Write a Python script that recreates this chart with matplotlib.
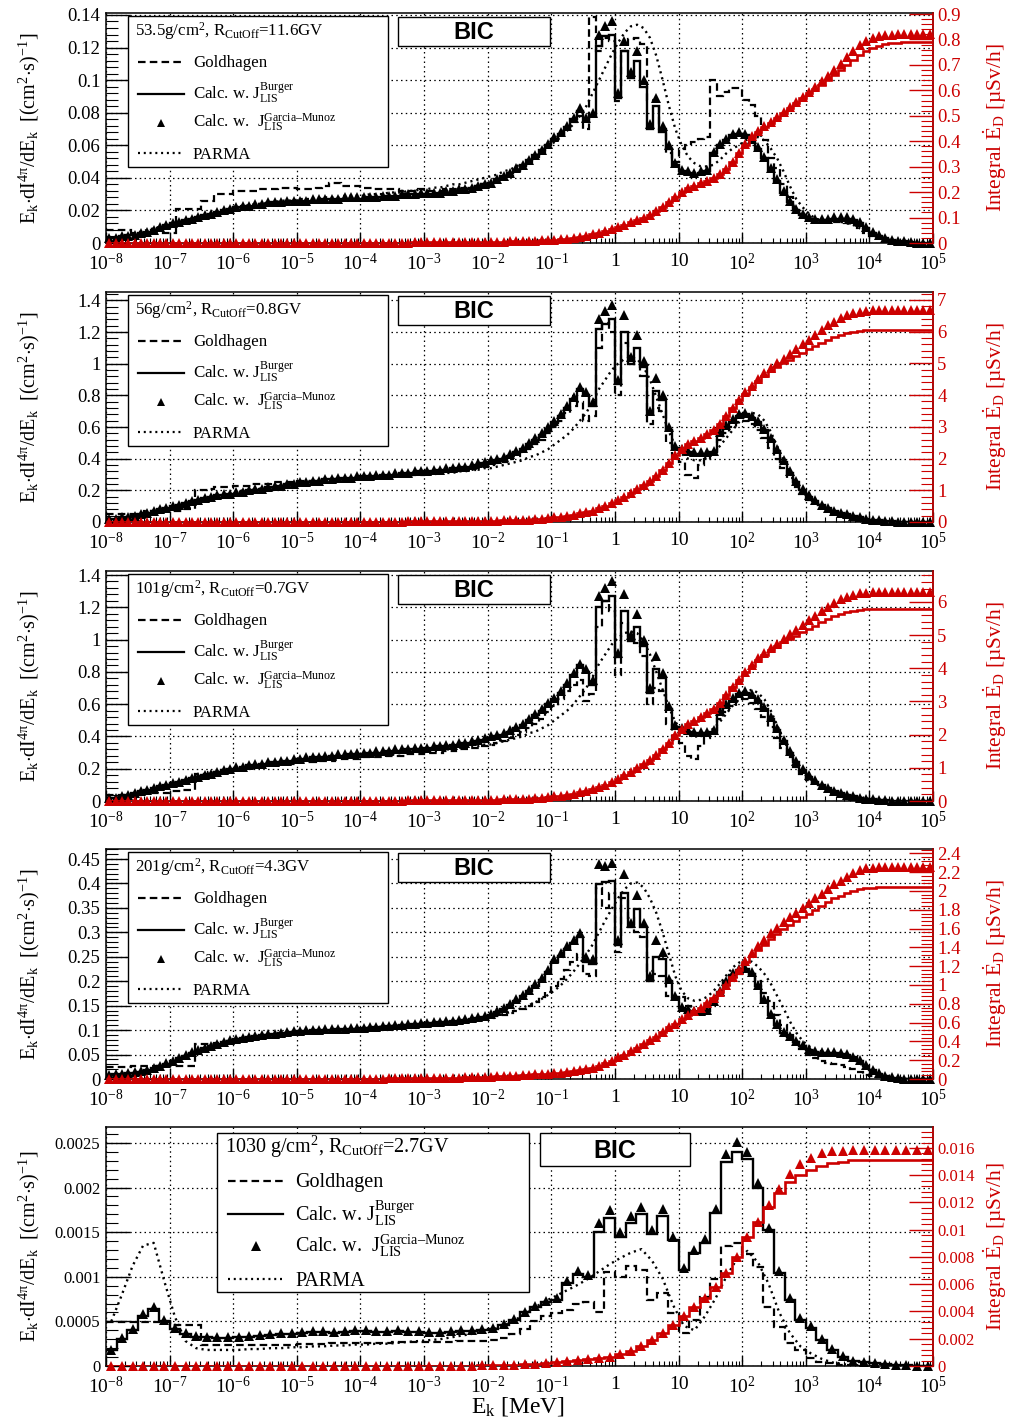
import numpy as np
import matplotlib
matplotlib.use("Agg")
import matplotlib.pyplot as plt
from matplotlib.lines import Line2D
from matplotlib.patches import Rectangle
from matplotlib.ticker import MultipleLocator, FixedLocator, FuncFormatter, LogLocator, NullFormatter

plt.rcParams["font.family"] = ["Liberation Serif", "DejaVu Serif"]
plt.rcParams["mathtext.fontset"] = "custom"
plt.rcParams["mathtext.rm"] = "Liberation Serif"
plt.rcParams["mathtext.it"] = "Liberation Serif:italic"
plt.rcParams["mathtext.bf"] = "Liberation Serif:bold"
plt.rcParams["mathtext.default"] = "rm"

# ---------------- energy binning (kinetic energy in MeV) ----------------
FINE_EDGES = np.logspace(-8, 5, 131)     # 10 bins per decade
COARSE_EDGES = np.logspace(-8, 5, 79)    # 6 bins per decade

X_TICKS = [1e-8, 1e-7, 1e-6, 1e-5, 1e-4, 1e-3, 1e-2, 1e-1, 1, 10, 1e2, 1e3, 1e4, 1e5]
X_TICK_LABELS = [r"$10^{-8}$", r"$10^{-7}$", r"$10^{-6}$", r"$10^{-5}$", r"$10^{-4}$",
                 r"$10^{-3}$", r"$10^{-2}$", r"$10^{-1}$", "1", "10", r"$10^{2}$",
                 r"$10^{3}$", r"$10^{4}$", r"$10^{5}$"]

# ---------------- 53.5 g/cm2, R_cutoff = 11.6 GV (flux x 1e-3, dose x 1e-2) ----------------
P1_GOLDHAGEN = [
    8, 8, 8, 8, 6, 6, 6, 6, 6, 6,
    6, 21, 21, 21, 21, 26, 26, 30, 30, 30,
    32, 32, 32, 32, 33, 33, 33, 34, 34, 34,
    33, 33, 33, 34, 35, 37, 37, 35, 35, 35,
    34, 34, 33, 33, 33, 33, 32, 32, 32, 33,
    32, 32, 32, 33, 33, 33, 34, 34, 35, 36,
    37, 38, 40, 42, 44, 47, 50, 53, 56, 60,
    63, 66, 70, 74, 78, 70, 139, 118, 126, 124,
    87, 118, 125, 126, 122, 88, 87, 70, 55, 50,
    58, 60, 62, 64, 65, 100, 90, 93, 95, 95,
    88, 85, 78, 63, 52, 46, 36, 28, 22, 18,
    15, 14, 14, 14, 13, 13, 12, 11, 9, 6,
    4, 3, 2, 1, 0.5, 0.3, 0, 0, 0, 0]
P1_BURGER = [
    3, 3, 4, 5, 5, 6, 7, 8, 9, 11,
    12, 13, 14, 15, 16, 17, 18, 19, 20, 21,
    22, 22, 23, 23, 24, 24, 25, 25, 25, 26,
    26, 26, 26, 26, 27, 27, 27, 27, 27, 27,
    27, 28, 28, 28, 29, 29, 29, 30, 30, 30,
    30, 30, 31, 31, 32, 32, 33, 34, 35, 36,
    37, 39, 41, 43, 45, 48, 51, 54, 57, 60,
    64, 67, 71, 76, 81, 75, 78, 121, 127, 128,
    89, 118, 101, 112, 96, 70, 84, 68, 58, 48,
    44, 43, 42, 43, 44, 55, 60, 63, 66, 67,
    66, 63, 58, 52, 45, 38, 31, 25, 20, 17,
    15, 14, 14, 14, 15, 15, 15, 14, 12, 9,
    6, 4, 3, 2, 1, 1, 0.5, 0.2, 0, 0]
P1_GARCIA = [
    3, 3, 4, 4, 5, 6, 7, 8, 10, 11,
    12, 13, 14, 15, 16, 17, 18, 19, 20, 21,
    22, 23, 23, 24, 24, 25, 25, 25, 26, 26,
    26, 26, 27, 27, 27, 27, 27, 28, 28, 28,
    28, 28, 28, 29, 29, 29, 30, 30, 30, 31,
    31, 31, 31, 32, 32, 33, 33, 34, 35, 36,
    37, 39, 41, 43, 46, 48, 51, 54, 57, 61,
    65, 68, 72, 77, 83, 77, 80, 128, 133, 136,
    92, 124, 105, 118, 100, 73, 89, 72, 60, 49,
    45, 44, 43, 44, 45, 56, 61, 64, 67, 68,
    67, 64, 59, 53, 46, 39, 32, 26, 21, 18,
    16, 15, 15, 15, 16, 16, 16, 15, 13, 10,
    7, 5, 3, 2, 1.5, 1, 0.6, 0.3, 0.1, 0]
P1_PARMA = [
    3, 3, 4, 5, 6, 7, 8, 9, 10, 11,
    12, 13, 14, 15, 16, 17, 18, 19, 20, 21,
    22, 23, 23, 24, 24, 25, 25, 26, 26, 26,
    27, 27, 27, 27, 28, 28, 28, 29, 29, 29,
    29, 30, 30, 30, 31, 31, 31, 32, 32, 33,
    33, 34, 34, 35, 36, 36, 37, 38, 39, 40,
    41, 42, 44, 45, 47, 49, 51, 53, 56, 59,
    62, 65, 69, 73, 78, 84, 92, 100, 108, 116,
    123, 129, 133, 134, 132, 126, 115, 100, 84, 70,
    60, 53, 49, 47, 47, 48, 51, 55, 58, 60,
    63, 65, 65, 63, 58, 52, 44, 35, 27, 22,
    18, 15, 14, 13, 13, 13, 12, 11, 9, 7,
    5, 3, 2, 1, 0.5, 0.2, 0, 0, 0, 0]
P1_DOSE_GARCIA = [
    0, 0, 0, 0, 0, 0, 0, 0, 0, 0,
    0, 0, 0, 0, 0, 0, 0, 0, 0, 0,
    0, 0, 0, 0, 0, 0, 0, 0, 0, 0,
    0, 0, 0, 0, 0, 0.1, 0.1, 0.1, 0.1, 0.1,
    0.1, 0.1, 0.1, 0.1, 0.1, 0.1, 0.1, 0.1, 0.2, 0.2,
    0.2, 0.2, 0.2, 0.2, 0.3, 0.3, 0.3, 0.3, 0.4, 0.4,
    0.4, 0.5, 0.5, 0.6, 0.6, 0.7, 0.8, 0.9, 1.0, 1.1,
    1.3, 1.5, 1.7, 2.0, 2.4, 2.9, 3.4, 4.0, 4.7, 5.5,
    6.3, 7.2, 8.1, 9.0, 10, 11, 12.5, 14, 16, 18,
    20, 21.5, 22.5, 23.5, 24.5, 25.5, 27, 29, 32, 35.5,
    39, 42, 44, 46, 47.5, 49.5, 51.5, 53.5, 55.5, 57.5,
    59.5, 61.5, 63.5, 65.5, 68, 70.5, 73, 75.5, 78, 79.5,
    80.5, 81.2, 81.6, 81.8, 82, 82, 82, 82, 82, 82]
P1_DOSE_BURGER = [
    0, 0, 0, 0, 0, 0, 0, 0, 0, 0,
    0, 0, 0, 0, 0, 0, 0, 0, 0, 0,
    0, 0, 0, 0, 0, 0, 0, 0, 0, 0,
    0, 0, 0, 0, 0, 0.1, 0.1, 0.1, 0.1, 0.1,
    0.1, 0.1, 0.1, 0.1, 0.1, 0.1, 0.1, 0.1, 0.2, 0.2,
    0.2, 0.2, 0.2, 0.2, 0.3, 0.3, 0.3, 0.3, 0.4, 0.4,
    0.4, 0.5, 0.5, 0.6, 0.6, 0.7, 0.8, 0.9, 1.0, 1.1,
    1.3, 1.5, 1.7, 2.0, 2.4, 2.9, 3.4, 4.0, 4.7, 5.5,
    6.3, 7.2, 8.1, 9.0, 10, 11, 12.5, 14, 16, 18,
    20, 21.5, 22.5, 23.5, 24.5, 25.5, 27, 29, 32, 35.5,
    38.5, 41.5, 43.5, 45.5, 47, 49, 51, 53, 55, 57,
    59, 60.5, 62, 64, 66, 68, 70, 72, 74, 75.5,
    76.8, 77.6, 78.2, 78.6, 78.8, 79, 79, 79, 79, 79]

# ---------------- 56 g/cm2, R_cutoff = 0.8 GV (flux x 1e-2, dose x 1e-1) ----------------
P2_GOLDHAGEN = [
    5, 5, 5, 5, 5, 6, 7, 7, 7, 7,
    7, 7, 8, 8, 20, 20, 21, 22, 22, 22,
    23, 23, 23, 24, 24, 24, 25, 25, 25, 25,
    26, 26, 26, 26, 26, 27, 27, 27, 27, 27,
    28, 28, 28, 28, 29, 29, 29, 30, 30, 30,
    31, 31, 31, 32, 32, 32, 33, 33, 34, 35,
    36, 37, 38, 40, 42, 44, 46, 49, 52, 56,
    60, 64, 69, 73, 76, 64, 67, 110, 126, 120,
    80, 113, 105, 100, 92, 62, 72, 70, 50, 40,
    38, 30, 28, 36, 40, 45, 52, 56, 60, 63,
    64, 62, 58, 53, 47, 40, 34, 28, 22, 18,
    14, 12, 10, 8, 6, 5, 4, 3, 2, 1.5,
    1, 0.7, 0.4, 0.2, 0.1, 0, 0, 0, 0, 0]
P2_BURGER = [
    2, 2, 3, 3, 4, 5, 6, 7, 8, 9,
    10, 11, 12, 13, 14, 15, 16, 17, 17, 18,
    18, 19, 20, 20, 21, 22, 22, 23, 24, 24,
    25, 25, 26, 26, 27, 27, 27, 28, 28, 28,
    29, 29, 29, 30, 30, 30, 31, 31, 31, 32,
    32, 32, 33, 33, 34, 34, 35, 35, 36, 37,
    38, 39, 40, 42, 44, 46, 49, 52, 55, 59,
    63, 67, 72, 78, 84, 80, 73, 122, 125, 128,
    87, 120, 100, 110, 98, 68, 83, 77, 58, 47,
    45, 44, 43, 43, 43, 44, 56, 60, 64, 67,
    68, 66, 63, 58, 52, 45, 38, 31, 25, 20,
    16, 13, 11, 9, 7, 6, 5, 4, 3, 2,
    1.5, 1, 0.7, 0.5, 0.3, 0.2, 0.1, 0, 0, 0]
P2_GARCIA = [
    2, 2, 3, 3, 4, 5, 6, 7, 8, 9,
    10, 11, 12, 13, 14, 15, 16, 17, 18, 18,
    19, 19, 20, 21, 21, 22, 23, 23, 24, 24,
    25, 25, 26, 26, 27, 27, 28, 28, 28, 29,
    29, 29, 30, 30, 30, 31, 31, 31, 32, 32,
    32, 33, 33, 34, 34, 35, 35, 36, 37, 38,
    39, 40, 41, 43, 45, 47, 50, 53, 56, 60,
    64, 68, 73, 79, 85, 82, 76, 128, 133, 137,
    90, 131, 104, 118, 102, 70, 91, 80, 60, 48,
    46, 45, 44, 44, 44, 45, 57, 61, 65, 68,
    69, 67, 64, 59, 53, 46, 39, 32, 26, 21,
    17, 14, 11, 9, 7, 6, 5, 4, 3, 2,
    1.5, 1, 0.7, 0.5, 0.3, 0.2, 0.1, 0, 0, 0]
P2_PARMA = [
    2, 2, 3, 4, 4, 5, 6, 7, 8, 9,
    10, 11, 12, 13, 14, 15, 16, 17, 18, 18,
    19, 20, 20, 21, 21, 22, 22, 23, 23, 24,
    24, 25, 25, 25, 26, 26, 26, 27, 27, 27,
    27, 28, 28, 28, 28, 29, 29, 29, 30, 30,
    30, 30, 31, 31, 31, 32, 32, 33, 33, 34,
    34, 35, 36, 37, 38, 39, 41, 42, 44, 46,
    49, 52, 55, 59, 64, 69, 76, 84, 90, 96,
    100, 103, 104, 103, 98, 90, 79, 68, 57, 48,
    43, 40, 39, 39, 41, 44, 48, 53, 58, 63,
    67, 69, 68, 64, 57, 48, 39, 31, 24, 19,
    15, 12, 10, 8, 6, 5, 4, 3, 2, 1.5,
    1, 0.6, 0.3, 0.1, 0, 0, 0, 0, 0, 0]
P2_DOSE_GARCIA = [
    0, 0, 0, 0, 0, 0, 0, 0, 0, 0,
    0, 0, 0, 0, 0, 0, 0, 0, 0, 0,
    0, 0, 0, 0, 0, 0, 0, 0, 0, 0,
    0, 0, 0, 0, 0, 0, 0, 0, 0.1, 0.1,
    0.1, 0.1, 0.1, 0.1, 0.1, 0.1, 0.1, 0.2, 0.2, 0.2,
    0.2, 0.2, 0.2, 0.3, 0.3, 0.3, 0.3, 0.3, 0.4, 0.4,
    0.4, 0.4, 0.5, 0.5, 0.6, 0.6, 0.7, 0.8, 1.0, 1.2,
    1.5, 1.7, 2.0, 2.3, 2.7, 3.1, 3.6, 4.3, 5.1, 6.0,
    7.0, 8.0, 9.2, 10.5, 11.8, 13, 14.5, 16.5, 18.5, 21,
    23, 24.5, 25.5, 26.5, 27.8, 29, 31, 33.5, 36, 38.5,
    41, 43, 45, 47, 48.5, 50, 51.5, 53, 54.5, 56,
    57.5, 59, 60.5, 62, 63.2, 64.3, 65.2, 65.8, 66.2, 66.5,
    66.7, 66.8, 66.8, 66.8, 66.8, 66.8, 66.8, 66.8, 66.8, 66.8]
P2_DOSE_BURGER = [
    0, 0, 0, 0, 0, 0, 0, 0, 0, 0,
    0, 0, 0, 0, 0, 0, 0, 0, 0, 0,
    0, 0, 0, 0, 0, 0, 0, 0, 0, 0,
    0, 0, 0, 0, 0, 0, 0, 0, 0.1, 0.1,
    0.1, 0.1, 0.1, 0.1, 0.1, 0.1, 0.1, 0.2, 0.2, 0.2,
    0.2, 0.2, 0.2, 0.3, 0.3, 0.3, 0.3, 0.3, 0.4, 0.4,
    0.4, 0.4, 0.5, 0.5, 0.6, 0.6, 0.7, 0.8, 1.0, 1.2,
    1.5, 1.7, 2.0, 2.3, 2.7, 3.1, 3.6, 4.3, 5.1, 6.0,
    7.0, 8.0, 9.2, 10.5, 11.8, 13, 14.5, 16.5, 18.5, 21,
    23, 24.5, 25.5, 26.5, 27.8, 29, 31, 33.5, 36, 38.5,
    40.5, 42.5, 44.3, 46, 47.5, 48.8, 50, 51.2, 52.3, 53.4,
    54.5, 55.5, 56.5, 57.4, 58.2, 58.9, 59.5, 59.9, 60.2, 60.4,
    60.5, 60.5, 60.5, 60.5, 60.5, 60.5, 60.5, 60.5, 60.5, 60.5]

# ---------------- 101 g/cm2, R_cutoff = 0.7 GV (flux x 1e-2, dose x 1e-1) ----------------
P3_GOLDHAGEN = [
    4, 4, 4, 4, 4, 5, 5, 5, 5, 5,
    6, 6, 7, 7, 17, 17, 18, 18, 19, 19,
    20, 20, 21, 21, 22, 22, 22, 23, 23, 23,
    24, 24, 24, 25, 25, 25, 26, 26, 26, 26,
    27, 27, 27, 27, 28, 28, 28, 29, 29, 29,
    30, 30, 30, 31, 31, 32, 32, 33, 33, 34,
    35, 36, 37, 39, 41, 43, 45, 48, 51, 55,
    59, 63, 68, 72, 75, 62, 66, 108, 124, 118,
    78, 110, 102, 98, 90, 60, 70, 68, 48, 38,
    36, 28, 26, 34, 39, 44, 51, 55, 59, 62,
    63, 61, 57, 52, 46, 39, 33, 27, 21, 17,
    13, 11, 9, 7, 5, 4, 3, 2.5, 2, 1.5,
    1, 0.6, 0.3, 0.2, 0.1, 0, 0, 0, 0, 0]
P3_BURGER = [
    2, 2, 3, 4, 5, 6, 7, 8, 9, 10,
    11, 12, 13, 14, 15, 16, 17, 18, 19, 20,
    20, 21, 22, 22, 23, 23, 24, 24, 25, 25,
    26, 26, 27, 27, 27, 28, 28, 28, 29, 29,
    29, 30, 30, 30, 31, 31, 31, 32, 32, 32,
    33, 33, 34, 34, 35, 35, 36, 36, 37, 38,
    39, 40, 41, 43, 45, 47, 50, 53, 56, 60,
    63, 67, 72, 78, 84, 80, 72, 120, 124, 127,
    89, 118, 99, 108, 96, 67, 82, 76, 57, 46,
    44, 43, 42, 42, 42, 43, 55, 59, 63, 66,
    67, 65, 62, 57, 51, 44, 37, 30, 24, 19,
    15, 12, 10, 8, 6, 5, 4, 3, 2, 1.5,
    1, 0.7, 0.5, 0.3, 0.2, 0.1, 0, 0, 0, 0]
P3_GARCIA = [
    2, 2, 3, 4, 5, 6, 7, 8, 9, 10,
    11, 12, 13, 14, 15, 16, 17, 18, 19, 20,
    21, 21, 22, 23, 23, 24, 24, 25, 25, 26,
    26, 27, 27, 27, 28, 28, 29, 29, 29, 30,
    30, 30, 31, 31, 31, 32, 32, 32, 33, 33,
    33, 34, 34, 35, 35, 36, 36, 37, 38, 39,
    40, 41, 42, 44, 46, 48, 51, 54, 57, 61,
    64, 68, 73, 79, 85, 82, 75, 127, 132, 136,
    92, 128, 103, 116, 100, 70, 90, 79, 59, 47,
    45, 44, 43, 43, 43, 44, 56, 60, 64, 67,
    68, 66, 63, 58, 52, 45, 38, 31, 25, 20,
    16, 13, 10, 8, 6, 5, 4, 3, 2, 1.5,
    1, 0.7, 0.5, 0.3, 0.2, 0.1, 0, 0, 0, 0]
P3_PARMA = [
    2, 2, 3, 4, 5, 6, 7, 8, 9, 10,
    11, 12, 13, 14, 15, 16, 17, 18, 19, 19,
    20, 21, 21, 22, 22, 23, 23, 24, 24, 25,
    25, 25, 26, 26, 26, 27, 27, 27, 28, 28,
    28, 28, 29, 29, 29, 29, 30, 30, 30, 31,
    31, 31, 31, 32, 32, 33, 33, 34, 34, 35,
    35, 36, 37, 38, 39, 40, 42, 43, 45, 47,
    50, 53, 56, 60, 65, 70, 77, 85, 91, 97,
    101, 104, 105, 104, 99, 91, 80, 69, 58, 49,
    44, 41, 40, 40, 42, 45, 49, 54, 59, 64,
    67, 69, 67, 63, 56, 47, 38, 30, 23, 18,
    14, 11, 9, 7, 6, 5, 4, 3, 2, 1.5,
    1, 0.6, 0.3, 0.1, 0, 0, 0, 0, 0, 0]
P3_DOSE_GARCIA = [
    0, 0, 0, 0, 0, 0, 0, 0, 0, 0,
    0, 0, 0, 0, 0, 0, 0, 0, 0, 0,
    0, 0, 0, 0, 0, 0, 0, 0, 0, 0,
    0, 0, 0, 0, 0, 0, 0, 0, 0.1, 0.1,
    0.1, 0.1, 0.1, 0.1, 0.1, 0.1, 0.1, 0.2, 0.2, 0.2,
    0.2, 0.2, 0.2, 0.3, 0.3, 0.3, 0.3, 0.3, 0.4, 0.4,
    0.4, 0.4, 0.5, 0.5, 0.6, 0.6, 0.7, 0.8, 1.0, 1.2,
    1.4, 1.6, 1.9, 2.2, 2.6, 3.0, 3.5, 4.1, 4.9, 5.8,
    6.7, 7.7, 8.8, 10, 11.2, 12.4, 13.8, 15.6, 17.6, 19.8,
    21.8, 23.2, 24.2, 25.2, 26.4, 27.6, 29.4, 31.8, 34.2, 36.6,
    39, 41, 43, 44.6, 46, 47.4, 48.8, 50.2, 51.6, 53,
    54.4, 55.8, 57.2, 58.6, 59.8, 60.8, 61.6, 62.2, 62.6, 62.8,
    63, 63, 63, 63, 63, 63, 63, 63, 63, 63]
P3_DOSE_BURGER = [
    0, 0, 0, 0, 0, 0, 0, 0, 0, 0,
    0, 0, 0, 0, 0, 0, 0, 0, 0, 0,
    0, 0, 0, 0, 0, 0, 0, 0, 0, 0,
    0, 0, 0, 0, 0, 0, 0, 0, 0.1, 0.1,
    0.1, 0.1, 0.1, 0.1, 0.1, 0.1, 0.1, 0.2, 0.2, 0.2,
    0.2, 0.2, 0.2, 0.3, 0.3, 0.3, 0.3, 0.3, 0.4, 0.4,
    0.4, 0.4, 0.5, 0.5, 0.6, 0.6, 0.7, 0.8, 1.0, 1.2,
    1.4, 1.6, 1.9, 2.2, 2.6, 3.0, 3.5, 4.1, 4.9, 5.8,
    6.7, 7.7, 8.8, 10, 11.2, 12.4, 13.8, 15.6, 17.6, 19.8,
    21.8, 23.2, 24.2, 25.2, 26.4, 27.6, 29.4, 31.8, 34.2, 36.6,
    38.8, 40.8, 42.5, 44, 45.4, 46.6, 47.8, 48.8, 49.8, 50.8,
    51.8, 52.8, 53.8, 54.8, 55.6, 56.3, 56.9, 57.3, 57.6, 57.8,
    58, 58, 58, 58, 58, 58, 58, 58, 58, 58]

# ---------------- 201 g/cm2, R_cutoff = 4.3 GV (flux x 1e-3, dose x 1e-2) ----------------
P4_GOLDHAGEN = [
    24, 24, 24, 24, 27, 27, 27, 27, 27, 27,
    27, 27, 27, 27, 72, 72, 72, 74, 76, 78,
    80, 82, 84, 86, 88, 90, 91, 92, 94, 95,
    96, 97, 98, 98, 99, 99, 100, 100, 101, 101,
    102, 103, 104, 105, 106, 107, 108, 109, 110, 110,
    111, 112, 113, 114, 115, 116, 117, 119, 121, 123,
    125, 128, 131, 135, 139, 144, 150, 158, 167, 178,
    190, 205, 222, 240, 255, 215, 210, 390, 350, 380,
    260, 370, 330, 300, 290, 220, 215, 210, 170, 165,
    168, 150, 140, 140, 145, 160, 180, 200, 210, 215,
    220, 215, 200, 175, 160, 130, 110, 90, 75, 62,
    50, 42, 36, 32, 30, 28, 25, 20, 14, 9,
    6, 4, 2, 1, 0.5, 0.2, 0, 0, 0, 0]
P4_BURGER = [
    9, 10, 11, 12, 13, 15, 18, 22, 26, 31,
    36, 42, 48, 54, 58, 63, 67, 71, 75, 78,
    81, 83, 85, 87, 89, 91, 92, 94, 95, 97,
    98, 99, 100, 100, 101, 101, 102, 102, 103, 103,
    104, 105, 106, 107, 108, 109, 110, 111, 112, 113,
    114, 115, 116, 117, 118, 119, 120, 122, 124, 126,
    130, 137, 144, 152, 160, 169, 179, 190, 203, 218,
    240, 252, 265, 278, 290, 240, 236, 398, 402, 405,
    275, 380, 310, 347, 310, 200, 250, 245, 200, 168,
    145, 140, 138, 138, 140, 158, 178, 198, 213, 222,
    225, 215, 190, 160, 130, 110, 95, 85, 75, 67,
    60, 56, 54, 53, 53, 52, 50, 44, 36, 26,
    18, 11, 6, 3, 1.5, 0.8, 0.3, 0.1, 0, 0]
P4_GARCIA = [
    9, 10, 11, 12, 14, 16, 19, 23, 27, 32,
    37, 43, 49, 55, 60, 64, 68, 72, 76, 79,
    82, 84, 86, 88, 90, 92, 93, 95, 96, 98,
    99, 100, 101, 101, 102, 102, 103, 103, 104, 104,
    105, 106, 107, 108, 109, 110, 111, 112, 113, 114,
    115, 116, 117, 118, 119, 120, 122, 124, 126, 128,
    132, 139, 146, 154, 163, 172, 182, 194, 207, 222,
    245, 258, 272, 285, 298, 250, 245, 440, 435, 442,
    285, 420, 320, 377, 320, 210, 285, 260, 205, 170,
    148, 143, 140, 140, 142, 160, 180, 200, 216, 226,
    228, 218, 193, 163, 133, 112, 97, 87, 77, 69,
    62, 58, 56, 55, 55, 54, 52, 46, 38, 28,
    19, 12, 7, 3.5, 1.8, 0.9, 0.4, 0.1, 0, 0]
P4_PARMA = [
    9, 10, 11, 12, 13, 15, 17, 20, 24, 29,
    34, 40, 46, 52, 57, 62, 66, 70, 74, 77,
    80, 82, 84, 86, 88, 90, 91, 93, 94, 95,
    96, 97, 98, 99, 100, 101, 101, 102, 102, 103,
    104, 105, 106, 107, 108, 109, 110, 111, 112, 113,
    114, 115, 116, 117, 118, 119, 120, 121, 123, 125,
    127, 130, 133, 137, 141, 146, 151, 157, 164, 172,
    181, 192, 205, 220, 237, 255, 275, 300, 325, 348,
    370, 388, 400, 402, 392, 370, 340, 300, 255, 210,
    180, 165, 160, 162, 168, 180, 195, 212, 228, 238,
    242, 240, 230, 215, 195, 170, 145, 118, 95, 78,
    67, 60, 56, 53, 51, 49, 46, 40, 32, 22,
    14, 8, 4, 2, 0.8, 0.3, 0, 0, 0, 0]
P4_DOSE_GARCIA = [
    0, 0, 0, 0, 0, 0, 0, 0, 0, 0,
    0, 0, 0, 0, 0, 0, 0, 0, 0, 0,
    0, 0, 0, 0, 0, 0, 0, 0, 0.1, 0.1,
    0.1, 0.1, 0.1, 0.2, 0.2, 0.2, 0.3, 0.3, 0.3, 0.4,
    0.4, 0.4, 0.5, 0.5, 0.6, 0.6, 0.7, 0.7, 0.8, 0.8,
    0.9, 1.0, 1.1, 1.2, 1.3, 1.4, 1.6, 1.8, 2.0, 2.2,
    2.5, 2.8, 3.1, 3.4, 3.7, 4.0, 4.4, 4.8, 5.2, 5.7,
    6.2, 6.8, 7.5, 8.3, 9.2, 10.5, 12, 14, 16.5, 19.5,
    23, 26, 29.5, 33, 37, 41, 45, 50, 55, 59,
    64, 68, 72, 76, 81, 86, 92, 100, 108, 116,
    126, 134, 141, 148, 155, 161, 167, 172, 177, 182,
    187, 192, 197, 202, 207, 211, 215, 219, 222, 224,
    224.5, 225, 225, 225, 225, 225, 225, 225, 225, 225]
P4_DOSE_BURGER = [
    0, 0, 0, 0, 0, 0, 0, 0, 0, 0,
    0, 0, 0, 0, 0, 0, 0, 0, 0, 0,
    0, 0, 0, 0, 0, 0, 0, 0, 0.1, 0.1,
    0.1, 0.1, 0.1, 0.2, 0.2, 0.2, 0.3, 0.3, 0.3, 0.4,
    0.4, 0.4, 0.5, 0.5, 0.6, 0.6, 0.7, 0.7, 0.8, 0.8,
    0.9, 1.0, 1.1, 1.2, 1.3, 1.4, 1.6, 1.8, 2.0, 2.2,
    2.5, 2.8, 3.1, 3.4, 3.7, 4.0, 4.4, 4.8, 5.2, 5.7,
    6.2, 6.8, 7.5, 8.3, 9.2, 10.5, 12, 14, 16.5, 19.5,
    23, 26, 29.5, 33, 37, 41, 45, 50, 55, 59,
    64, 68, 72, 76, 81, 86, 92, 100, 108, 116,
    124, 131, 137, 143, 149, 154, 159, 164, 168, 172,
    176, 180, 184, 188, 192, 195, 198, 200, 202, 203,
    203.5, 204, 204, 204, 204, 204, 204, 204, 204, 204]

# ---------------- 1030 g/cm2, R_cutoff = 2.7 GV (flux x 1e-5, dose x 1e-4) ----------------
P5_GOLDHAGEN = [
    49, 49, 49, 49, 49, 49,
    46, 46, 46, 24, 24, 24,
    24, 24, 24, 24, 24, 24,
    25, 25, 25, 26, 26, 26,
    26, 26, 26, 27, 27, 27,
    27, 27, 27, 28, 28, 28,
    29, 31, 36, 42, 50, 56,
    59, 63, 70, 72, 60, 105,
    100, 112, 108, 74, 82, 59,
    37, 52, 77, 97, 135, 138,
    125, 111, 66, 44, 26, 18,
    9, 5, 3, 1, 0.5, 0,
    0, 0, 0, 0, 0, 0]
P5_BURGER = [
    18, 30, 40, 56, 64, 50,
    42, 36, 33, 32, 31, 31,
    32, 33, 34, 35, 36, 36,
    37, 38, 38, 37, 38, 39,
    39, 38, 38, 39, 38, 38,
    37, 37, 38, 39, 39, 40,
    42, 46, 52, 60, 66, 72,
    74, 93, 103, 100, 150, 166,
    145, 160, 170, 148, 168, 141,
    108, 127, 138, 171, 229, 240,
    232, 200, 152, 104, 74, 52,
    43, 29, 18, 10, 6, 4,
    3, 2, 1, 1, 0.5, 0.3]
P5_GARCIA = [
    18, 31, 42, 58, 66, 52,
    43, 37, 34, 33, 32, 32,
    33, 34, 35, 36, 37, 37,
    38, 39, 39, 38, 39, 40,
    40, 39, 39, 40, 39, 39,
    38, 38, 39, 40, 40, 41,
    43, 47, 53, 61, 67, 73,
    76, 95, 106, 102, 160, 175,
    150, 168, 178, 152, 176, 145,
    110, 130, 142, 176, 238, 251,
    240, 205, 155, 107, 76, 54,
    45, 30, 19, 11, 6, 4,
    3, 2, 1, 1, 0.5, 0.3]
P5_PARMA = [
    50, 80, 112, 135, 138, 95,
    55, 28, 20, 18, 18, 18,
    18, 19, 19, 20, 20, 21,
    21, 22, 22, 23, 23, 24,
    24, 25, 25, 26, 27, 28,
    29, 30, 32, 34, 36, 38,
    41, 45, 51, 58, 66, 73,
    79, 85, 91, 98, 106, 114,
    121, 127, 131, 118, 98, 68,
    45, 40, 56, 76, 100, 120,
    129, 116, 92, 60, 37, 22,
    14, 8, 4, 2, 1, 0.5,
    0, 0, 0, 0, 0, 0]
P5_DOSE_GARCIA = [
    0, 0, 0, 0, 0, 0,
    0, 0, 0, 0, 0, 0,
    0, 0, 0, 0, 0, 0,
    0, 0, 0, 0, 0, 0,
    0.1, 0.1, 0.1, 0.1, 0.1, 0.1,
    0.2, 0.2, 0.2, 0.3, 0.3, 0.4,
    0.5, 0.7, 1, 1.3, 1.7, 2.2,
    2.8, 3.4, 4.2, 5, 5.8, 6.8,
    8.5, 11, 14.5, 19, 24, 30,
    37, 43, 50, 58, 68, 80,
    95, 106, 118, 130, 141, 148,
    153, 156, 157.5, 158, 158.5, 158.5,
    158.5, 158.5, 158.5, 158.5, 158.5, 158.5]
P5_DOSE_BURGER = [
    0, 0, 0, 0, 0, 0,
    0, 0, 0, 0, 0, 0,
    0, 0, 0, 0, 0, 0,
    0, 0, 0, 0, 0, 0,
    0.1, 0.1, 0.1, 0.1, 0.1, 0.1,
    0.2, 0.2, 0.2, 0.3, 0.3, 0.4,
    0.5, 0.7, 1, 1.3, 1.7, 2.2,
    2.8, 3.4, 4.2, 5, 5.8, 6.8,
    8.5, 11, 14.5, 19, 24, 30,
    37, 43, 50, 58, 68, 80,
    95, 106, 117, 127, 135, 140,
    144, 147, 149, 150, 151, 151,
    151.5, 151.5, 151.5, 151.5, 151.5, 151.5]

LEGEND_LABELS = ["Goldhagen",
                 r"Calc. w. $\mathrm{J}_{\mathrm{LIS}}^{\mathrm{Burger}}$",
                 "Calc. w.  $\\mathrm{J}_{\\mathrm{LIS}}^{\\mathrm{Garcia\u2013Munoz}}$",
                 "PARMA"]

# ---------------- figure ----------------
W, H = 1010, 1422
RED = "#cc0000"
DASH = (0, (3.4, 1.9))
DOT = (0, (0.9, 1.7))
fig = plt.figure(figsize=(W / 100, H / 100), dpi=100)
fig.patch.set_facecolor("white")


def fx(x):
    return x / W


def fy(y):
    return 1 - y / H


def fmt(v, pos):
    return "%g" % round(v, 7)


def draw_legend(box, title, title_xy, rows_y, samples_y, sx, text_x, fs, ms):
    x0, y0, x1, y1 = box
    fig.add_artist(Rectangle((fx(x0), fy(y1)), (x1 - x0) / W, (y1 - y0) / H,
                             transform=fig.transFigure, facecolor="white",
                             edgecolor="black", lw=1.0, zorder=20))
    fig.text(fx(title_xy[0]), fy(title_xy[1]), title, fontsize=fs, ha="left",
             va="baseline", zorder=21)
    styles = [dict(ls=DASH), dict(ls="-"), None, dict(ls=DOT)]
    for lab, ty, sy, st in zip(LEGEND_LABELS, rows_y, samples_y, styles):
        if st is None:
            fig.add_artist(Line2D([fx((sx[0] + sx[1]) / 2)], [fy(sy)], transform=fig.transFigure,
                                  marker="^", ms=ms, color="black", mew=0, ls="none", zorder=21))
        else:
            fig.add_artist(Line2D([fx(sx[0]), fx(sx[1])], [fy(sy), fy(sy)], transform=fig.transFigure,
                                  color="black", lw=1.6, zorder=21, **st))
        fig.text(fx(text_x), fy(ty), lab, fontsize=fs, ha="left", va="baseline", zorder=21)


def draw_bic(box, fs):
    x0, y0, x1, y1 = box
    fig.add_artist(Rectangle((fx(x0), fy(y1)), (x1 - x0) / W, (y1 - y0) / H,
                             transform=fig.transFigure, facecolor="white",
                             edgecolor="black", lw=1.0, zorder=20))
    fig.text(fx((x0 + x1) / 2), fy((y0 + y1) / 2 + 1), "BIC", family="Liberation Sans",
             weight="bold", fontsize=fs, ha="center", va="center", zorder=21)


def draw_panel(top, bottom, edges, gold, burger, garcia, parma, dose_g, dose_b,
               s_flux, s_dose, ymax_l, ymax_r, maj_l, min_l, maj_r, min_r,
               ytick_fs, ms):
    ax = fig.add_axes([fx(106), fy(bottom), (933 - 106) / W, (bottom - top) / H])
    ax.set_xscale("log")
    ax.set_xlim(1e-8, 1e5)
    ax.set_ylim(0, ymax_l)
    centers = np.sqrt(edges[:-1] * edges[1:])

    ax.stairs(np.asarray(gold) * s_flux, edges, baseline=None, color="black",
              lw=1.6, ls=DASH, zorder=3)
    ax.plot(centers, np.asarray(parma) * s_flux, color="black", lw=1.7, ls=DOT, zorder=3)
    ax.stairs(np.asarray(burger) * s_flux, edges, baseline=None, color="black",
              lw=1.7, zorder=4)
    ax.plot(centers, np.asarray(garcia) * s_flux, ls="none", marker="^", ms=ms,
            color="black", mew=0, zorder=5, clip_on=False)

    ax.set_axisbelow(True)
    ax.grid(True, which="major", color="black", lw=0.9, ls=(0, (1.2, 2.6)))

    ax.xaxis.set_major_locator(FixedLocator(X_TICKS))
    ax.set_xticklabels(X_TICK_LABELS)
    ax.xaxis.set_minor_locator(LogLocator(base=10, subs=np.arange(2, 10), numticks=200))
    ax.xaxis.set_minor_formatter(NullFormatter())
    ax.tick_params(axis="x", which="major", direction="in", length=7, width=1,
                   labelsize=14, pad=7, top=False)
    ax.tick_params(axis="x", which="minor", direction="in", length=3.5, width=0.8, top=False)

    ax.yaxis.set_major_locator(MultipleLocator(maj_l))
    ax.yaxis.set_minor_locator(MultipleLocator(min_l))
    ax.yaxis.set_major_formatter(FuncFormatter(fmt))
    ax.tick_params(axis="y", which="major", direction="in", length=17, width=1,
                   labelsize=ytick_fs, pad=4, right=False)
    ax.tick_params(axis="y", which="minor", direction="in", length=8.5, width=0.8, right=False)
    for sp in ax.spines.values():
        sp.set_linewidth(1.1)

    ax2 = ax.twinx()
    ax2.set_ylim(0, ymax_r)
    ax2.stairs(np.asarray(dose_b) * s_dose, edges, baseline=None, color=RED, lw=1.9, zorder=3)
    ax2.plot(centers, np.asarray(dose_g) * s_dose, ls="none", marker="^", ms=ms,
             color=RED, mew=0, zorder=4, clip_on=False)
    ax2.yaxis.set_major_locator(MultipleLocator(maj_r))
    ax2.yaxis.set_minor_locator(MultipleLocator(min_r))
    ax2.yaxis.set_major_formatter(FuncFormatter(fmt))
    ax2.tick_params(axis="y", which="major", direction="in", length=17, width=1,
                    color=RED, labelcolor=RED, labelsize=ytick_fs, pad=3)
    ax2.tick_params(axis="y", which="minor", direction="in", length=8.5, width=0.8, color=RED)
    for name, sp in ax2.spines.items():
        sp.set_visible(name == "right")
    ax2.spines["right"].set_color(RED)
    ax2.spines["right"].set_linewidth(1.1)

    mid = (top + bottom) / 2
    fig.text(fx(29), fy(mid),
             r"$\mathrm{E_{k}{\cdot}dI^{4\pi}/dE_{k}\ \ [(cm^{2}{\cdot}s)^{-1}]}$",
             rotation=90, ha="center", va="center", fontsize=14.5)
    fig.text(fx(995), fy(mid), r"Integral $\dot{\mathrm{E}}_{\mathrm{D}}$ [µSv/h]",
             rotation=90, ha="center", va="center", fontsize=15.5, color=RED)
    return ax, ax2


# panel geometry: (top, bottom) of each frame in pixels
FRAMES = [(13, 243), (292, 522), (571, 801), (849, 1079), (1127, 1366)]
TITLES = [r"53.5g/cm$^{2}$, R$_{\mathrm{CutOff}}$=11.6GV",
          r"56g/cm$^{2}$, R$_{\mathrm{CutOff}}$=0.8GV",
          r"101g/cm$^{2}$, R$_{\mathrm{CutOff}}$=0.7GV",
          r"201g/cm$^{2}$, R$_{\mathrm{CutOff}}$=4.3GV",
          r"1030 g/cm$^{2}$, R$_{\mathrm{CutOff}}$=2.7GV"]

PANELS = [
    (P1_GOLDHAGEN, P1_BURGER, P1_GARCIA, P1_PARMA, P1_DOSE_GARCIA, P1_DOSE_BURGER,
     1e-3, 1e-2, 0.1412, 0.904, 0.02, 0.004, 0.1, 0.02),
    (P2_GOLDHAGEN, P2_BURGER, P2_GARCIA, P2_PARMA, P2_DOSE_GARCIA, P2_DOSE_BURGER,
     1e-2, 1e-1, 1.453, 7.25, 0.2, 0.04, 1, 0.2),
    (P3_GOLDHAGEN, P3_BURGER, P3_GARCIA, P3_PARMA, P3_DOSE_GARCIA, P3_DOSE_BURGER,
     1e-2, 1e-1, 1.425, 6.93, 0.2, 0.04, 1, 0.2),
    (P4_GOLDHAGEN, P4_BURGER, P4_GARCIA, P4_PARMA, P4_DOSE_GARCIA, P4_DOSE_BURGER,
     1e-3, 1e-2, 0.4705, 2.446, 0.05, 0.01, 0.2, 0.04),
]

for i, (frame, spec) in enumerate(zip(FRAMES[:4], PANELS)):
    top, bottom = frame
    draw_panel(top, bottom, FINE_EDGES, *spec[:6], *spec[6:], ytick_fs=13.5, ms=6.6)
    draw_legend((128, top + 3, 388, top + 154), TITLES[i], (135, top + 23),
                [top + 54, top + 86, top + 115, top + 146],
                [top + 49, top + 81, top + 110, top + 140],
                (138, 184), 193, 12.2, 6)
    draw_bic((398, top + 4, 550, top + 33), 17)

top, bottom = FRAMES[4]
draw_panel(top, bottom, COARSE_EDGES, P5_GOLDHAGEN, P5_BURGER, P5_GARCIA, P5_PARMA,
           P5_DOSE_GARCIA, P5_DOSE_BURGER, 1e-5, 1e-4, 0.002679, 0.01754,
           0.0005, 0.0001, 0.002, 0.0004, ytick_fs=12, ms=7.2)
draw_legend((217, 1133, 529, 1292), TITLES[4], (225, 1153),
            [1187, 1222, 1252, 1286], [1181, 1214, 1246, 1279],
            (228, 283), 295, 14.5, 7)
draw_bic((540, 1133, 690, 1166), 18)

fig.text(fx(518), fy(1406), r"E$_{\mathrm{k}}$ [MeV]", ha="center", va="center", fontsize=17)

fig.savefig("out.png", dpi=100, facecolor="white")
